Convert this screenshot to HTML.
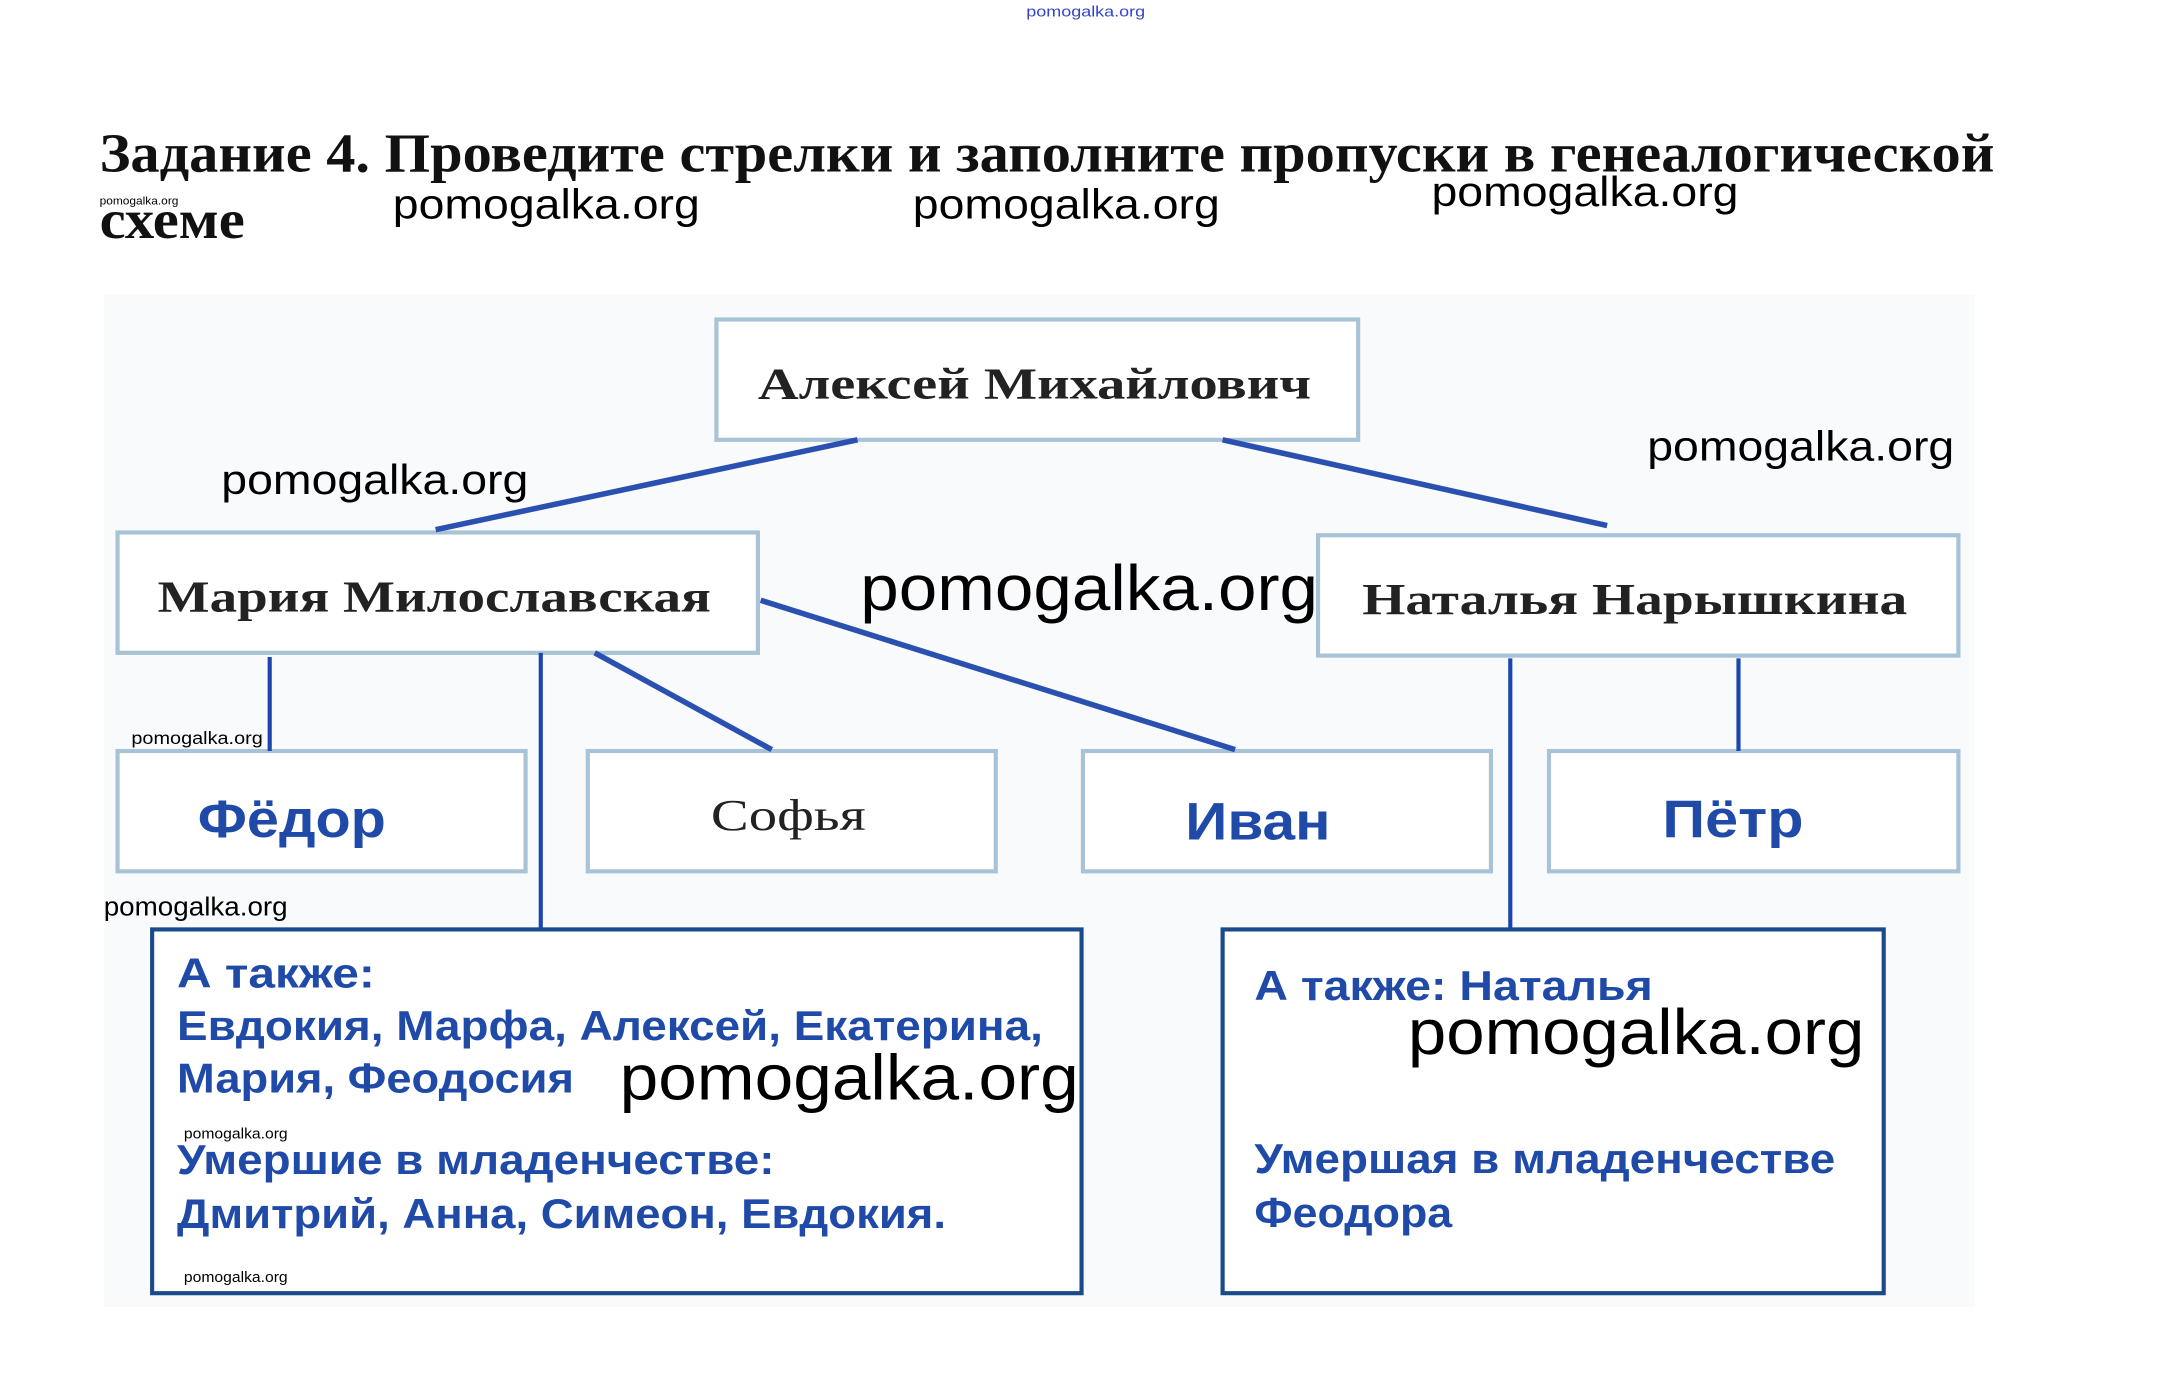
<!DOCTYPE html>
<html><head><meta charset="utf-8"><style>html,body{margin:0;padding:0;background:#fff}svg{display:block}</style></head>
<body>
<svg width="2170" height="1390" viewBox="0 0 1569 1005" preserveAspectRatio="none" xmlns="http://www.w3.org/2000/svg">
<rect width="1569" height="1005" fill="#fff"/>
<g font-family="Liberation Sans, sans-serif">
<text x="742" y="12" font-size="11" fill="#3344cc" textLength="86" lengthAdjust="spacingAndGlyphs">pomogalka.org</text>
</g>
<g font-family="Liberation Serif, serif" font-weight="bold" fill="#111">
<text x="72" y="124" font-size="40" textLength="1370" lengthAdjust="spacingAndGlyphs">Задание 4. Проведите стрелки и заполните пропуски в генеалогической</text>
<text x="72" y="172" font-size="40" textLength="105" lengthAdjust="spacingAndGlyphs">схеме</text>
</g>
<rect x="75" y="213" width="1353" height="732" fill="#f8fafc"/>
<g fill="#fff" stroke="#a8c2d6" stroke-width="3">
<rect x="518" y="231" width="464" height="87"/>
<rect x="85" y="385" width="463" height="87"/>
<rect x="953" y="387" width="463" height="87"/>
<rect x="85" y="543" width="295" height="87"/>
<rect x="425" y="543" width="295" height="87"/>
<rect x="783" y="543" width="295" height="87"/>
<rect x="1120" y="543" width="296" height="87"/>
</g>
<g fill="#fff" stroke="#1a4a8a" stroke-width="3">
<rect x="110" y="672" width="672" height="263"/>
<rect x="884" y="672" width="478" height="263"/>
</g>
<g stroke="#2a50b0" stroke-width="4" fill="none">
<line x1="620" y1="318" x2="315" y2="383"/>
<line x1="884" y1="318" x2="1162" y2="380"/>
<line x1="430" y1="472" x2="558" y2="542"/>
<line x1="550" y1="434" x2="893" y2="542"/>
</g>
<g stroke="#1d45b0" stroke-width="3" fill="none">
<line x1="195" y1="475" x2="195" y2="543"/>
<line x1="391" y1="472" x2="391" y2="671"/>
<line x1="1092" y1="476" x2="1092" y2="671"/>
<line x1="1257" y1="476" x2="1257" y2="543"/>
</g>
<g font-family="Liberation Serif, serif" font-weight="bold" fill="#222" font-size="32">
<text x="548" y="288" textLength="400" lengthAdjust="spacingAndGlyphs">Алексей Михайлович</text>
<text x="114" y="442" textLength="400" lengthAdjust="spacingAndGlyphs">Мария Милославская</text>
<text x="985" y="444" textLength="394" lengthAdjust="spacingAndGlyphs">Наталья Нарышкина</text>
<text x="514" y="600" font-weight="normal" textLength="112" lengthAdjust="spacingAndGlyphs">Софья</text>
</g>
<g font-family="Liberation Sans, sans-serif" font-weight="bold" fill="#1f4aa8">
<text x="143" y="605" font-size="38" textLength="136" lengthAdjust="spacingAndGlyphs">Фёдор</text>
<text x="857" y="607" font-size="38" textLength="105" lengthAdjust="spacingAndGlyphs">Иван</text>
<text x="1202" y="605" font-size="38" textLength="102" lengthAdjust="spacingAndGlyphs">Пётр</text>
<g font-size="30">
<text x="128" y="714" textLength="143" lengthAdjust="spacingAndGlyphs">А также:</text>
<text x="128" y="752" textLength="626" lengthAdjust="spacingAndGlyphs">Евдокия, Марфа, Алексей, Екатерина,</text>
<text x="128" y="790" textLength="287" lengthAdjust="spacingAndGlyphs">Мария, Феодосия</text>
<text x="128" y="849" textLength="432" lengthAdjust="spacingAndGlyphs">Умершие в младенчестве:</text>
<text x="128" y="888" textLength="556" lengthAdjust="spacingAndGlyphs">Дмитрий, Анна, Симеон, Евдокия.</text>
<text x="907" y="723" textLength="288" lengthAdjust="spacingAndGlyphs">А также: Наталья</text>
<text x="907" y="848" textLength="420" lengthAdjust="spacingAndGlyphs">Умершая в младенчестве</text>
<text x="907" y="887" textLength="143" lengthAdjust="spacingAndGlyphs">Феодора</text>
</g>
</g>
<g font-family="Liberation Sans, sans-serif" fill="#000">
<text x="72" y="148" font-size="8" textLength="57" lengthAdjust="spacingAndGlyphs">pomogalka.org</text>
<text x="284" y="158" font-size="30" textLength="222" lengthAdjust="spacingAndGlyphs">pomogalka.org</text>
<text x="660" y="158" font-size="30" textLength="222" lengthAdjust="spacingAndGlyphs">pomogalka.org</text>
<text x="1035" y="149" font-size="30" textLength="222" lengthAdjust="spacingAndGlyphs">pomogalka.org</text>
<text x="160" y="357" font-size="30" textLength="222" lengthAdjust="spacingAndGlyphs">pomogalka.org</text>
<text x="1191" y="333" font-size="30" textLength="222" lengthAdjust="spacingAndGlyphs">pomogalka.org</text>
<text x="622" y="441" font-size="46" textLength="331" lengthAdjust="spacingAndGlyphs">pomogalka.org</text>
<text x="95" y="538" font-size="13" textLength="95" lengthAdjust="spacingAndGlyphs">pomogalka.org</text>
<text x="75" y="662" font-size="19" textLength="133" lengthAdjust="spacingAndGlyphs">pomogalka.org</text>
<text x="448" y="795" font-size="46" textLength="332" lengthAdjust="spacingAndGlyphs">pomogalka.org</text>
<text x="1018" y="762" font-size="46" textLength="330" lengthAdjust="spacingAndGlyphs">pomogalka.org</text>
<text x="133" y="823" font-size="11" textLength="75" lengthAdjust="spacingAndGlyphs">pomogalka.org</text>
<text x="133" y="927" font-size="11" textLength="75" lengthAdjust="spacingAndGlyphs">pomogalka.org</text>
</g>
</svg>
</body></html>
